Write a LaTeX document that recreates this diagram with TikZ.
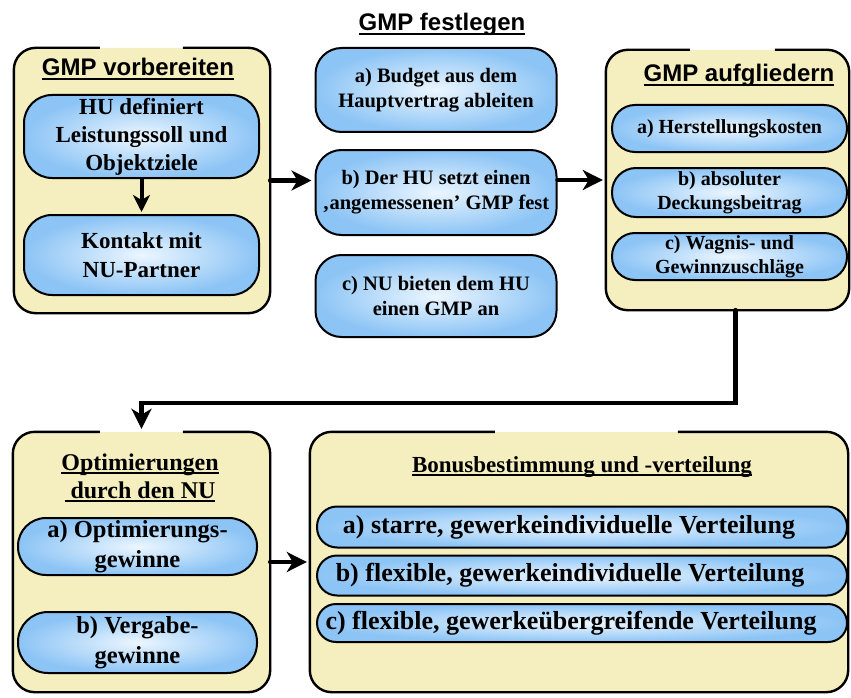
\documentclass[tikz,border=0pt]{standalone}
\usepackage{fontspec}
\setmainfont{Liberation Serif}
\newfontfamily\headsans{Liberation Sans}
\usetikzlibrary{arrows.meta}
\definecolor{boxyellow}{RGB}{245,238,190}
\definecolor{cellblue}{RGB}{140,196,245}
\definecolor{cellpale}{RGB}{236,246,255}
% bold underline drawn as a rule below the text
\newcommand\uln[1]{\setbox0\hbox{#1}\rlap{\copy0}\rule[-4pt]{\wd0}{1.8pt}}
\newcommand\fsz[1]{\fontsize{#1}{1.22\dimexpr#1pt\relax}\selectfont}
\begin{document}
\begin{tikzpicture}[x=1pt,y=-1pt,
  groupfill/.style={fill=boxyellow, rounded corners=22pt, inner sep=0pt},
  groupline/.style={line width=2.4pt, rounded corners=22pt},
  cell/.style={draw, line width=2pt, inner color=cellpale, outer color=cellblue,
    inner sep=0pt, align=center, font=\bfseries},
  sanshead/.style={font=\headsans\bfseries\fsz{24}, anchor=base, inner sep=0pt},
  serifhead/.style={font=\bfseries\fsz{24}, anchor=base, inner sep=0pt},
  flow/.style={line width=4.5pt, line cap=round,
    -{Stealth[length=20pt,width=20pt,inset=6pt]}, shorten >=3pt}]
\useasboundingbox (0,0) rectangle (851,698);

% ---------- GMP vorbereiten ----------
\node[groupfill, minimum width=256pt, minimum height=265pt] (prep) at (142,180.5) {};
\draw[groupline] ([xshift=86pt]prep.north west) -- (prep.north west) -- (prep.south west)
  -- (prep.south east) -- (prep.north east) -- ([xshift=169pt]prep.north west);
\node[sanshead] (prepT) at (138,76) {\uln{GMP vorbereiten}};
\node[cell, font=\bfseries\fsz{23}, minimum width=235pt, minimum height=83pt,
  rounded corners=28pt] (lead) at (141.5,136.5)
  {HU definiert\\Leistungssoll und\\Objektziele};
\node[cell, font=\bfseries\fsz{23}, minimum width=235pt, minimum height=80pt,
  rounded corners=28pt] (contact) at (141.5,255) {Kontakt mit\\[1pt]NU-Partner};
\draw[line width=4pt, -{Stealth[length=17pt,width=17pt,inset=5pt]}, shorten >=2pt]
  (lead.south) -- (contact.north);

% ---------- GMP festlegen ----------
\node[sanshead] (fixT) at (442,31) {\uln{GMP festlegen}};
\node[cell, font=\bfseries\fsz{20.5}, minimum width=241pt, minimum height=84pt,
  rounded corners=26pt] (budget) at (436,90) {a) Budget aus dem\\Hauptvertrag ableiten};
\node[cell, font=\bfseries\fsz{20.5}, minimum width=241pt, minimum height=85pt,
  rounded corners=26pt] (set) at (436,192.5) {b) Der HU setzt einen\\‚angemessenen’ GMP fest};
\node[cell, font=\bfseries\fsz{20.5}, minimum width=241pt, minimum height=82pt,
  rounded corners=26pt] (offer) at (436,296) {c) NU bieten dem HU\\einen GMP an};

% ---------- GMP aufgliedern ----------
\node[groupfill, minimum width=243pt, minimum height=260pt] (split) at (727.5,180) {};
\draw[groupline] ([xshift=84pt]split.north west) -- (split.north west) -- (split.south west)
  -- (split.south east) -- (split.north east) -- ([xshift=169pt]split.north west);
\node[sanshead] (splitT) at (739,82) {\uln{GMP aufgliedern}};
\node[cell, font=\bfseries\fsz{20}, minimum width=235pt, minimum height=47pt,
  rounded corners=23pt] (costs) at (729.5,128.5) {a) Herstellungskosten};
\node[cell, font=\bfseries\fsz{20}, minimum width=235pt, minimum height=49pt,
  rounded corners=24pt] (margin) at (729.5,192.5) {b) absoluter\\Deckungsbeitrag};
\node[cell, font=\bfseries\fsz{20}, minimum width=235pt, minimum height=47pt,
  rounded corners=23pt] (risk) at (729.5,256.5) {c) Wagnis- und\\Gewinnzuschläge};

% ---------- Optimierungen durch den NU ----------
\node[groupfill, minimum width=257pt, minimum height=260pt] (opt) at (141.5,562) {};
\draw[groupline] ([xshift=87pt]opt.north west) -- (opt.north west) -- (opt.south west)
  -- (opt.south east) -- (opt.north east) -- ([xshift=170pt]opt.north west);
\node[serifhead] (optT1) at (140,470) {\uln{Optimierungen}};
\node[serifhead] (optT2) at (140,498) {\uln{\ durch den NU}};
\node[cell, font=\bfseries\fsz{24.5}, minimum width=239pt, minimum height=57pt,
  rounded corners=28pt] (optgain) at (137.5,546.5) {a) Optimierungs-\\gewinne};
\node[cell, font=\bfseries\fsz{24.5}, minimum width=239pt, minimum height=61pt,
  rounded corners=30pt] (awardgain) at (137.5,642.5) {b) Vergabe-\\gewinne};

% ---------- Bonusbestimmung und -verteilung ----------
\node[groupfill, minimum width=538pt, minimum height=260pt] (bonus) at (579,562) {};
\draw[groupline] ([xshift=185pt]bonus.north west) -- (bonus.north west) -- (bonus.south west)
  -- (bonus.south east) -- (bonus.north east) -- ([xshift=368pt]bonus.north west);
\node[serifhead, font=\bfseries\fsz{23}] (bonusT) at (582,472) {\uln{Bonusbestimmung und -verteilung}};
\node[cell, font=\bfseries\fsz{26}, minimum width=530pt, minimum height=41pt,
  rounded corners=20pt] (rigid) at (582,527) {a) starre, gewerkeindividuelle Verteilung\hspace*{26pt}};
\node[cell, font=\bfseries\fsz{26}, minimum width=530pt, minimum height=40pt,
  rounded corners=20pt] (flexind) at (582,575.5) {b) flexible, gewerkeindividuelle Verteilung\hspace*{24pt}};
\node[cell, font=\bfseries\fsz{26}, minimum width=530pt, minimum height=38pt,
  rounded corners=19pt] (flexcross) at (582,623) {c) flexible, gewerkeübergreifende Verteilung\hspace*{22pt}};

% ---------- connectors ----------
\draw[flow] (prep.east) -- (prep.east -| set.west);
\draw[flow] (split.west -| set.east) -- (split.west);
\draw[flow] ([xshift=8pt]split.south) -- ++(0,93) -| (opt.north);
\draw[flow] (opt.east) -- (opt.east -| bonus.west);
\end{tikzpicture}
\end{document}
